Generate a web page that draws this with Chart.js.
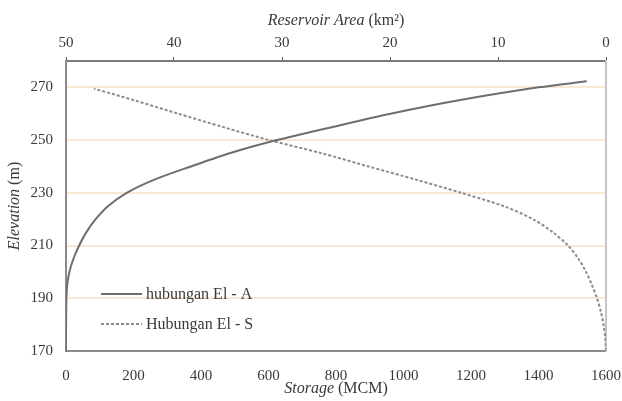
<!DOCTYPE html>
<html>
<head>
<meta charset="utf-8">
<script src="https://cdn.jsdelivr.net/npm/chart.js@4/dist/chart.umd.min.js"></script>
<style>
  html, body { margin: 0; padding: 0; background: #fff; }
  #wrap { width: 622px; height: 401px; }
</style>
</head>
<body>
<div id="wrap"><canvas id="graphique"></canvas></div>
<script>
// elevations (m) for the two curves
const elevSolid = [170, 175, 180, 185, 190, 195, 200, 205, 210, 215, 220, 225, 230, 235, 240, 245, 250, 255, 260, 265, 270, 272.3];
const storageMCM = [0, 0, 0.2, 0.6, 1.3, 3.5, 10, 22, 39, 60, 88, 125, 180, 262, 370, 485, 625, 790, 962, 1160, 1400, 1543];

const elevDashed = [170, 175, 180, 185, 190, 195, 200, 205, 210, 215, 220, 225, 230, 235, 240, 245, 250, 255, 260, 265, 269.5];
const areaKm2 = [0, 0.07, 0.23, 0.48, 0.83, 1.3, 1.85, 2.55, 3.52, 4.91, 6.76, 9.5, 13.4, 17.6, 22.0, 26.3, 31.2, 35.5, 39.6, 43.6, 47.4];

// legend text as printed in the original figure
const legendLabels = ["hubungan El - A", "Hubungan El - S"];

const storageTicks = [0, 200, 400, 600, 800, 1000, 1200, 1400, 1600];
const areaTicks = [0, 10, 20, 30, 40, 50];
const elevTicks = [170, 190, 210, 230, 250, 270];

// axis titles: [texte, italique]
const titreBas = [["Storage", true], [" (MCM)", false]];
const titreHaut = [["Reservoir Area", true], [" (km\u00B2)", false]];
const titreGauche = [["Elevation", true], [" (m)", false]];

const police = "'Liberation Serif', 'DejaVu Serif', serif";
const couleurTexte = "#3a3a3a";

function dessinerTitre(ctx, morceaux, x, y, taille) {
    ctx.textBaseline = "middle";
    ctx.textAlign = "left";
    let largeur = 0;
    for (const m of morceaux) {
        ctx.font = (m[1] ? "italic " : "") + taille + "px " + police;
        largeur += ctx.measureText(m[0]).width;
    }
    let cx = x - largeur / 2;
    for (const m of morceaux) {
        ctx.font = (m[1] ? "italic " : "") + taille + "px " + police;
        ctx.fillText(m[0], cx, y);
        cx += ctx.measureText(m[0]).width;
    }
}

// titres des axes + légende dans la zone du graphique
const pluginTitres = {
    id: "titres",
    afterDraw(chart) {
        const ctx = chart.ctx;
        const a = chart.chartArea;
        ctx.save();
        ctx.fillStyle = couleurTexte;
        dessinerTitre(ctx, titreBas, (a.left + a.right) / 2, 389, 16);
        dessinerTitre(ctx, titreHaut, (a.left + a.right) / 2, 21, 16);
        ctx.translate(15, (a.top + a.bottom) / 2);
        ctx.rotate(-Math.PI / 2);
        dessinerTitre(ctx, titreGauche, 0, 0, 16);
        ctx.restore();

        // légende
        ctx.save();
        chart.data.datasets.forEach((ds, i) => {
            const y = a.bottom - 57 + i * 30;
            const x0 = a.left + 35;
            ctx.strokeStyle = ds.borderColor;
            ctx.lineWidth = ds.borderWidth;
            ctx.setLineDash(ds.borderDash || []);
            ctx.beginPath();
            ctx.moveTo(x0, y);
            ctx.lineTo(x0 + 41, y);
            ctx.stroke();
            ctx.setLineDash([]);
            ctx.fillStyle = couleurTexte;
            ctx.font = "16px " + police;
            ctx.textBaseline = "middle";
            ctx.textAlign = "left";
            ctx.fillText(ds.label, x0 + 45, y + 1);
        });
        ctx.restore();
    }
};

const data = {
    datasets: [{
        label: legendLabels[0],
        data: storageMCM.map((s, i) => ({ x: s, y: elevSolid[i] })),
        xAxisID: "x",
        yAxisID: "y",
        showLine: true,
        borderColor: "#6e6e6e",
        borderWidth: 2,
        pointRadius: 0,
        tension: 0.3
    }, {
        label: legendLabels[1],
        data: areaKm2.map((v, i) => ({ x: v, y: elevDashed[i] })),
        xAxisID: "x2",
        yAxisID: "y",
        showLine: true,
        borderColor: "#8c8c8c",
        borderWidth: 2,
        borderDash: [3, 2],
        pointRadius: 0,
        tension: 0.3
    }]
};

const policeTicks = { family: police, size: 15 };

// pas de marge automatique pour les libellés des extrémités
function fixerHauteur(h) {
    return (s) => { s.height = h; s.paddingLeft = 0; s.paddingRight = 0; };
}

const config = {
    type: "scatter",
    data: data,
    plugins: [pluginTitres],
    options: {
        responsive: true,
        maintainAspectRatio: false,
        animation: false,
        layout: { padding: 0 },
        plugins: {
            legend: { display: false },
            tooltip: { enabled: false }
        },
        scales: {
            x: {
                type: "linear",
                position: "bottom",
                min: 0,
                max: 1600,
                afterBuildTicks: (s) => { s.ticks = storageTicks.map(v => ({ value: v })); },
                afterFit: fixerHauteur(50),
                grid: { display: false },
                border: { display: true, color: "#8a8a8a", width: 2 },
                ticks: { color: couleurTexte, font: policeTicks, padding: 8, maxRotation: 0, callback: (v) => String(v) }
            },
            x2: {
                type: "linear",
                position: "top",
                reverse: true,
                min: 0,
                max: 50,
                afterBuildTicks: (s) => { s.ticks = areaTicks.map(v => ({ value: v })); },
                afterFit: fixerHauteur(61),
                grid: { drawOnChartArea: false, drawTicks: true, tickLength: 4, color: "#555" },
                border: { display: true, color: "#7a7a7a", width: 2 },
                ticks: { color: couleurTexte, font: policeTicks, padding: 5, maxRotation: 0, callback: (v) => String(v) }
            },
            y: {
                type: "linear",
                position: "left",
                min: 170,
                max: 280,
                afterBuildTicks: (s) => { s.ticks = elevTicks.map(v => ({ value: v })); },
                afterFit: (s) => { s.width = 66; s.paddingTop = 0; s.paddingBottom = 0; },
                grid: {
                    drawTicks: false,
                    lineWidth: 2,
                    color: (c) => c.tick && c.tick.value === 170 ? "rgba(0,0,0,0)" : "#f8e8d6"
                },
                border: { display: true, color: "#8a8a8a", width: 2 },
                ticks: { color: couleurTexte, font: policeTicks, padding: 13, callback: (v) => String(v) }
            },
            y2: {
                type: "linear",
                position: "right",
                min: 170,
                max: 280,
                afterFit: (s) => { s.width = 16; s.paddingTop = 0; s.paddingBottom = 0; },
                grid: { display: false },
                border: { display: true, color: "#c4c4c4", width: 2 },
                ticks: { display: false }
            }
        }
    }
};

new Chart(document.querySelector("#graphique"), config);
</script>
</body>
</html>
